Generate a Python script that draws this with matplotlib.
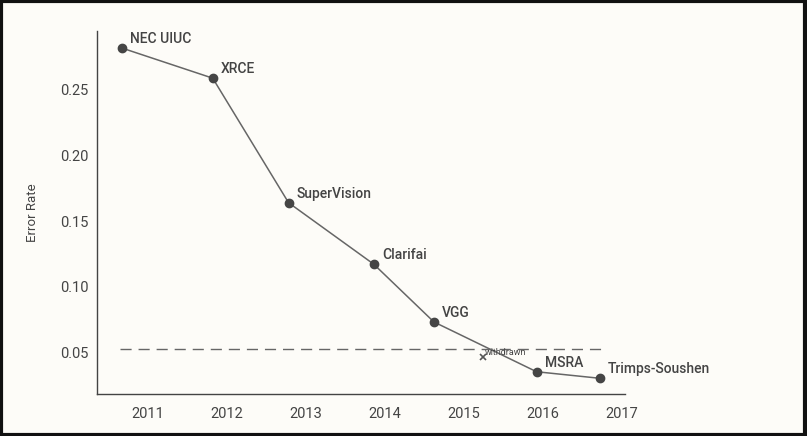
import matplotlib.pyplot as plt
from matplotlib.patches import Rectangle

# Data
years = [2010.67, 2011.82, 2012.78, 2013.86, 2014.62, 2015.92, 2016.72]
error_rate = [0.282, 0.259, 0.164, 0.117, 0.073, 0.035, 0.030]
teams = ['NEC UIUC', 'XRCE', 'SuperVision', 'Clarifai', 'VGG', 'MSRA', 'Trimps-Soushen']

withdrawn_year = [2015.24]
withdrawn_rate = [0.046]

human_level = 0.052
human_span = [2010.65, 2016.76]

xticks = [2011, 2012, 2013, 2014, 2015, 2016, 2017]
yticks = [0.05, 0.10, 0.15, 0.20, 0.25]

bg = '#fdfcf8'
text_c = '#444444'
plt.rcParams['font.family'] = ['Roboto', 'DejaVu Sans']

fig = plt.figure(figsize=(8.07, 4.36), dpi=100, facecolor=bg)
ax = fig.add_axes([0.1202, 0.0963, 0.6543, 0.8326], facecolor=bg)

ax.plot(years, error_rate, color='#666666', linewidth=1.1, zorder=2)
ax.plot(years, error_rate, 'o', color='#454545', markersize=6, zorder=3)
for x, y, t in zip(years, error_rate, teams):
    ax.annotate(t, (x, y), xytext=(6, 1.5), textcoords='offset points',
                fontsize=10, color=text_c, fontweight='medium', va='bottom')

ax.plot(withdrawn_year, withdrawn_rate, 'x', color='#555555', markersize=4, mew=1.2)
ax.annotate('withdrawn', (withdrawn_year[0], withdrawn_rate[0]), xytext=(1.5, 0.5),
            textcoords='offset points', fontsize=6.5, color=text_c, va='bottom')

ax.plot(human_span, [human_level, human_level], linestyle=(0, (8, 5)),
        color='#666666', linewidth=1)

ax.set_xlim(2010.355, 2017.04)
ax.set_ylim(0.018, 0.295)
ax.set_xticks(xticks)
ax.set_yticks(yticks)
ax.set_xticklabels([str(v) for v in xticks])
ax.set_yticklabels(['%.2f' % v for v in yticks])
ax.tick_params(length=0, labelsize=10.5, colors=text_c)
ax.tick_params(axis='x', pad=9)
ax.tick_params(axis='y', pad=6)
ax.set_ylabel('Error Rate', fontsize=9.5, color=text_c, labelpad=15)

for s in ['top', 'right']:
    ax.spines[s].set_visible(False)
for s in ['left', 'bottom']:
    ax.spines[s].set_color('#444444')
    ax.spines[s].set_linewidth(1)

# Outer border
fig.patches.append(Rectangle((0.0015, 0.003), 0.9965, 0.995, transform=fig.transFigure,
                             fill=False, edgecolor='#111111', linewidth=3))

fig.savefig('out.png', dpi=100, facecolor=bg)
